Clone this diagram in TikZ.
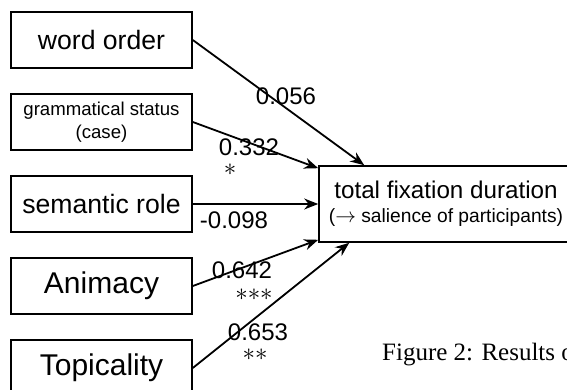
\documentclass[tikz,border=0pt]{standalone}
\usepackage{fontspec}
\setmainfont{Liberation Sans}
\newfontfamily\capfont{Liberation Serif}
\usetikzlibrary{arrows.meta,calc}

\begin{document}
\begin{tikzpicture}[x=1pt, y=-1pt, >={Stealth[length=14pt,width=11pt]}]
		\tikzset{var/.style={draw, line width=1.6pt, minimum width=181pt, minimum height=56pt, inner sep=0pt, align=center}}
		\tikzset{coef/.style={inner sep=0pt, font=\fontsize{24}{26}\selectfont}}
		\tikzset{sig/.style={inner sep=0pt, font=\fontsize{32}{32}\selectfont}}
		\tikzset{path/.style={->, line width=1.8pt}}
		\useasboundingbox (0,0) rectangle (567,390);
		\clip (0,0) rectangle (567,390);
		% predictors
		\node[var, font=\fontsize{26.6}{30}\selectfont] (wo) at (101.5,40) {word order};
		\node[var, font=\fontsize{18.6}{23}\selectfont] (gs) at (101.5,122) {grammatical status\\(case)};
		\node[var, font=\fontsize{26.6}{30}\selectfont] (sr) at (101.5,204) {semantic role};
		\node[var, font=\fontsize{30}{32}\selectfont] (an) at (101.5,286) {Animacy};
		\node[var, font=\fontsize{30}{32}\selectfont] (tp) at (101.5,368) {Topicality};
		% outcome
		\node[draw, line width=1.6pt, minimum width=254pt, minimum height=76pt, inner sep=0pt, align=center, font=\fontsize{24.2}{24}\selectfont] (tfd) at (446,204)
			{total fixation duration\\{\fontsize{19.2}{24}\selectfont($\rightarrow$ salience of participants)}};
		\coordinate (t1) at ($(tfd.north west)+(46,0)$);
		\coordinate (t2) at ($(tfd.north west)+(0,3)$);
		\coordinate (t4) at ($(tfd.south west)+(0,-3)$);
		\coordinate (t5) at ($(tfd.south west)+(31,0)$);
		% paths
		\draw[path] (wo.east) -- (t1);
		\draw[path] (gs.east) -- (t2);
		\draw[path] (sr.east) -- (tfd.west);
		\draw[path] (an.east) -- (t4);
		\draw[path] (tp.east) -- (t5);
		% coefficients
		\node[coef] (c1) at (286,96) {0.056};
		\node[coef] (c2) at (249,147) {0.332};
		\node[sig] (s2) at (230,170) {$\ast$};
		\node[coef] (c3) at (234,220) {-0.098};
		\node[coef] (c4) at (242,270) {0.642};
		\node[sig] (s4) at (254,295) {${\ast}{\ast}{\ast}$};
		\node[coef] (c5) at (258,332) {0.653};
		\node[sig] (s5) at (255,355) {${\ast}{\ast}$};
		% caption
		\node[anchor=west, inner sep=0pt, font=\capfont\fontsize{25}{27}\selectfont] (cap) at (382,354) {Figure 2: Results of};
	\end{tikzpicture}
\end{document}
